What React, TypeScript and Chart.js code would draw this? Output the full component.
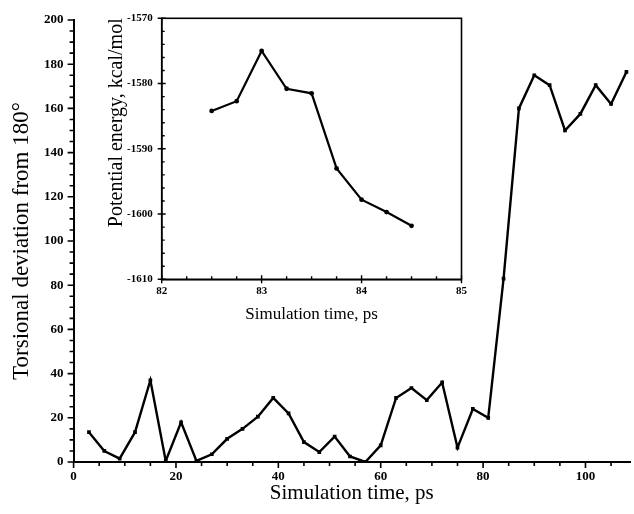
import React, { useEffect, useRef } from "react";
import { Chart, registerables } from "chart.js";
Chart.register(...registerables);

// ---- main chart data ----
const mainTimes = [3, 6, 9, 12, 15, 18, 21, 24, 27, 30, 33, 36, 39, 42, 45, 48, 51, 54, 57, 60, 63, 66, 69, 72, 75, 78, 81, 84, 87, 90, 93, 96, 99, 102, 105, 108];
const mainDeviation = [13.5, 5, 1.5, 13.5, 37, 0.5, 18, 0.5, 3.5, 10.5, 15, 20.5, 29, 22, 9, 4.5, 11.5, 2.5, 0, 7.5, 29, 33.5, 28, 36, 6.5, 24, 20, 83, 160, 175, 170.5, 150, 157.5, 170.5, 162, 176.5];
const mainXTickLabels = [0, 20, 40, 60, 80, 100];
const mainYTickLabels = [0, 20, 40, 60, 80, 100, 120, 140, 160, 180, 200];

// ---- inset chart data ----
const insetTimes = [82.5, 82.75, 83, 83.25, 83.5, 83.75, 84, 84.25, 84.5];
const insetEnergy = [-1584.2, -1582.7, -1575, -1580.8, -1581.5, -1593, -1597.8, -1599.7, -1601.8];
const insetXTickLabels = [82, 83, 84, 85];
const insetYTickLabels = [-1610, -1600, -1590, -1580, -1570];

const SERIF = '"Liberation Serif", "Times New Roman", serif';

type TickOpts = {
  xMin: number; xMax: number; xStep: number; xMajor: number[];
  yMin: number; yMax: number; yStep: number; yMajor: number[];
  majorOut: number; minorOut: number; majorIn: number; minorIn: number;
  width: number; box: boolean; boxWidth: number;
};

function makeTickPlugin(o: TickOpts) {
  return {
    id: "customTicks",
    afterDraw(chart: any) {
      const ctx = chart.ctx;
      const xs = chart.scales.x;
      const ys = chart.scales.y;
      const area = chart.chartArea;
      ctx.save();
      ctx.strokeStyle = "#000";
      ctx.lineWidth = o.width;
      ctx.beginPath();
      const nx = Math.round((o.xMax - o.xMin) / o.xStep);
      for (let i = 0; i <= nx; i++) {
        const v = o.xMin + i * o.xStep;
        const major = o.xMajor.some((m) => Math.abs(m - v) < 1e-6);
        const px = xs.getPixelForValue(v);
        if (px > area.right + 0.5) continue;
        ctx.moveTo(px, area.bottom - (major ? o.majorIn : o.minorIn));
        ctx.lineTo(px, area.bottom + (major ? o.majorOut : o.minorOut));
      }
      const ny = Math.round((o.yMax - o.yMin) / o.yStep);
      for (let i = 0; i <= ny; i++) {
        const v = o.yMin + i * o.yStep;
        const major = o.yMajor.some((m) => Math.abs(m - v) < 1e-6);
        const py = ys.getPixelForValue(v);
        ctx.moveTo(area.left - (major ? o.majorOut : o.minorOut), py);
        ctx.lineTo(area.left + (major ? o.majorIn : o.minorIn), py);
      }
      ctx.stroke();
      if (o.box) {
        ctx.lineWidth = o.boxWidth;
        ctx.strokeRect(area.left, area.top, area.right - area.left, area.bottom - area.top);
      }
      ctx.restore();
    },
  };
}

export default function App() {
  const mainRef = useRef<HTMLCanvasElement | null>(null);
  const insetRef = useRef<HTMLCanvasElement | null>(null);

  useEffect(() => {
    document.body.style.margin = "0";
    document.body.style.background = "#fff";
    const mainCanvas = mainRef.current!;
    const insetCanvas = insetRef.current!;

    const main = new Chart(mainCanvas, {
      type: "line",
      data: {
        datasets: [
          {
            data: mainTimes.map((t, i) => ({ x: t, y: mainDeviation[i] })),
            borderColor: "#000",
            borderWidth: 2.4,
            pointStyle: "rect",
            pointRadius: 2.6,
            pointBackgroundColor: "#000",
            pointBorderColor: "#000",
            pointBorderWidth: 0,
            tension: 0,
          },
        ],
      },
      options: {
        animation: false,
        responsive: false,
        devicePixelRatio: 1,
        layout: { padding: { left: 0, right: 0, top: 20, bottom: 0 } },
        plugins: { legend: { display: false }, tooltip: { enabled: false } },
        scales: {
          x: {
            type: "linear",
            min: 0,
            max: 108.7,
            afterBuildTicks: (s: any) => {
              s.ticks = mainXTickLabels.map((v) => ({ value: v }));
            },
            afterFit: (s: any) => {
              s.height = 52;
            },
            grid: { display: false, drawTicks: false },
            border: { display: true, color: "#000", width: 2 },
            ticks: {
              color: "#000",
              autoSkip: false,
              maxRotation: 0,
              padding: 7,
              font: { family: SERIF, size: 13, weight: "bold" },
              callback: (v: any) => String(v),
            },
            title: {
              display: true,
              text: "Simulation time, ps",
              color: "#000",
              font: { family: SERIF, size: 21 },
              padding: { top: 0, bottom: 8 },
            },
          },
          y: {
            type: "linear",
            min: 0,
            max: 200,
            afterBuildTicks: (s: any) => {
              s.ticks = mainYTickLabels.map((v) => ({ value: v }));
            },
            afterFit: (s: any) => {
              s.width = 73.6;
            },
            grid: { display: false, drawTicks: false },
            border: { display: true, color: "#000", width: 2 },
            ticks: {
              color: "#000",
              autoSkip: false,
              padding: 10,
              font: { family: SERIF, size: 13, weight: "bold" },
              callback: (v: any) => String(v),
            },
            title: {
              display: true,
              text: "Torsional deviation from 180°",
              color: "#000",
              font: { family: SERIF, size: 23 },
              padding: { top: 8, bottom: 0 },
            },
          },
        },
      },
      plugins: [
        makeTickPlugin({
          xMin: 0, xMax: 105, xStep: 5, xMajor: mainXTickLabels,
          yMin: 0, yMax: 200, yStep: 5, yMajor: mainYTickLabels,
          majorOut: 6, minorOut: 4, majorIn: 0, minorIn: 0,
          width: 1.6, box: false, boxWidth: 0,
        }),
      ],
    } as any);

    const inset = new Chart(insetCanvas, {
      type: "line",
      data: {
        datasets: [
          {
            data: insetTimes.map((t, i) => ({ x: t, y: insetEnergy[i] })),
            borderColor: "#000",
            borderWidth: 2.2,
            pointStyle: "circle",
            pointRadius: 2.4,
            pointBackgroundColor: "#000",
            pointBorderColor: "#000",
            pointBorderWidth: 0,
            tension: 0,
          },
        ],
      },
      options: {
        animation: false,
        responsive: false,
        devicePixelRatio: 1,
        layout: { padding: { left: 0, right: 7, top: 18.3, bottom: 0 } },
        plugins: { legend: { display: false }, tooltip: { enabled: false } },
        scales: {
          x: {
            type: "linear",
            min: 82,
            max: 85,
            afterBuildTicks: (s: any) => {
              s.ticks = insetXTickLabels.map((v) => ({ value: v }));
            },
            afterFit: (s: any) => {
              s.height = 50.7;
            },
            grid: { display: false, drawTicks: false },
            border: { display: true, color: "#000", width: 1.6 },
            ticks: {
              color: "#000",
              autoSkip: false,
              maxRotation: 0,
              padding: 5,
              font: { family: SERIF, size: 11, weight: "bold" },
              callback: (v: any) => String(v),
            },
            title: {
              display: true,
              text: "Simulation time, ps",
              color: "#000",
              font: { family: SERIF, size: 17 },
              padding: { top: 0, bottom: 5 },
            },
          },
          y: {
            type: "linear",
            min: -1610,
            max: -1570,
            afterBuildTicks: (s: any) => {
              s.ticks = insetYTickLabels.map((v) => ({ value: v }));
            },
            afterFit: (s: any) => {
              s.width = 61.7;
            },
            grid: { display: false, drawTicks: false },
            border: { display: true, color: "#000", width: 1.6 },
            ticks: {
              color: "#000",
              autoSkip: false,
              padding: 9,
              font: { family: SERIF, size: 11, weight: "bold" },
              callback: (v: any) => String(v),
            },
            title: {
              display: true,
              text: "Potential energy, kcal/mol",
              color: "#000",
              align: "end",
              font: { family: SERIF, size: 20 },
              padding: { top: 5, bottom: 0 },
            },
          },
        },
      },
      plugins: [
        makeTickPlugin({
          xMin: 82, xMax: 85, xStep: 0.25, xMajor: insetXTickLabels,
          yMin: -1610, yMax: -1570, yStep: 2, yMajor: insetYTickLabels,
          majorOut: 4, minorOut: 0, majorIn: 4, minorIn: 3,
          width: 1.4, box: true, boxWidth: 1.6,
        }),
      ],
    } as any);

    return () => {
      main.destroy();
      inset.destroy();
    };
  }, []);

  return (
    <div style={{ position: "relative", width: 634, height: 514, background: "#fff", overflow: "hidden" }}>
      <canvas ref={mainRef} width={634} height={514} style={{ position: "absolute", left: 0, top: 0, width: 634, height: 514 }} />
      <canvas ref={insetRef} width={372} height={330} style={{ position: "absolute", left: 100, top: 0, width: 372, height: 330 }} />
    </div>
  );
}
